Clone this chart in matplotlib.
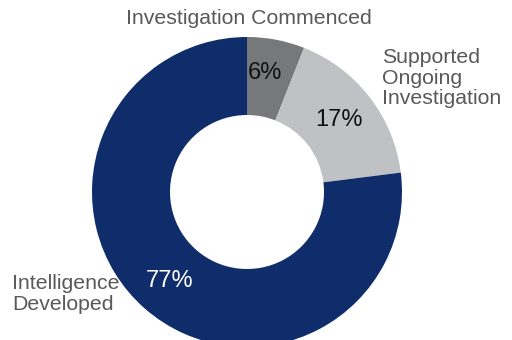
import matplotlib.pyplot as plt

plt.rcParams['font.family'] = ['Liberation Sans', 'DejaVu Sans']

categories = ['Investigation Commenced', 'Supported\nOngoing\nInvestigation', 'Intelligence\nDeveloped']
shares = [6, 17, 77]
colors = ['#76787b', '#c0c1c4', '#0f2d6b']
pct_colors = ['#111111', '#111111', '#ffffff']

fig = plt.figure(figsize=(5.12, 3.4), dpi=100)
ax = fig.add_axes([0, 0, 1, 1])

wedges, texts, autotexts = ax.pie(
    shares, colors=colors, startangle=90, counterclock=False,
    center=(247, 148), radius=155, frame=True,
    wedgeprops=dict(width=78, linewidth=0),
    autopct='%d%%', pctdistance=0.755,
    textprops=dict(fontsize=17))
for t, c in zip(autotexts, pct_colors):
    t.set_color(c)
autotexts[0].set_position((265, 267))
autotexts[2].set_position((170, 59))

ax.set_xlim(0, 512)
ax.set_ylim(0, 340)
ax.set_aspect('equal')
ax.axis('off')

lab = dict(fontsize=15.3, color='#595959', linespacing=1.08)
ax.text(249, 322, categories[0], ha='center', va='center', **lab)
ax.text(382, 262, categories[1], ha='left', va='center', **lab)
ax.text(12, 46, categories[2], ha='left', va='center', **lab)

fig.savefig('out.png', dpi=100)
